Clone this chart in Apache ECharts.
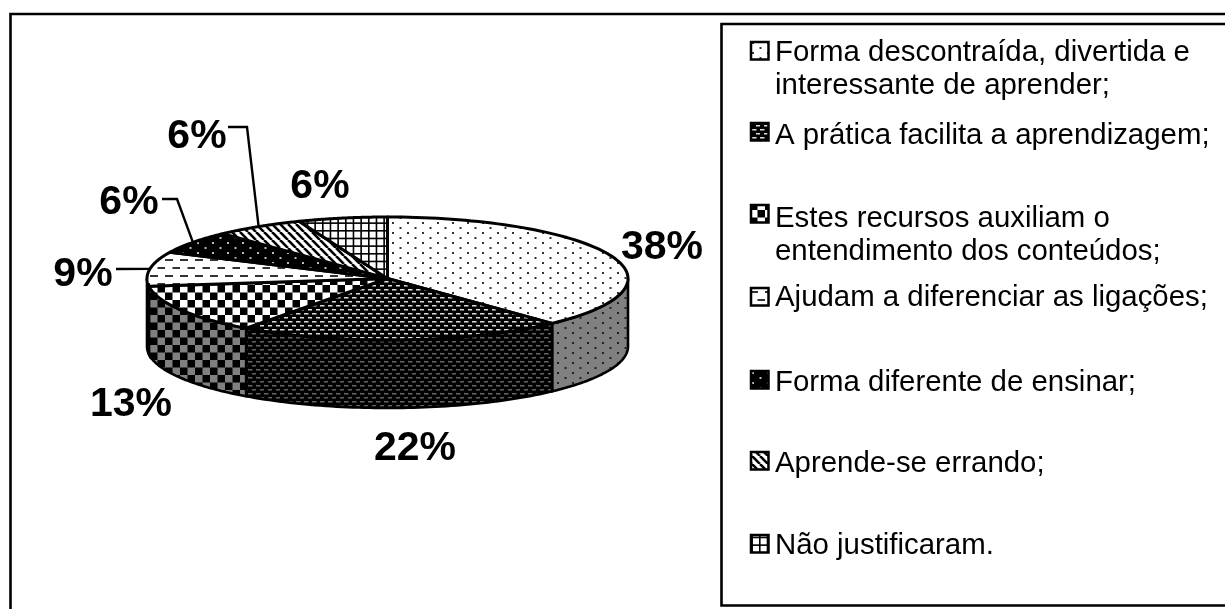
<!DOCTYPE html>
<html>
<head>
<meta charset="utf-8">
<title>Pizza</title>
<script src="https://cdn.jsdelivr.net/npm/echarts@6/dist/echarts.min.js"></script>
<style>
html, body { margin: 0; padding: 0; background: #fff; }
#main { width: 1225px; height: 609px; }
</style>
</head>
<body>
<div id="main"></div>
<script>
// dados
var percentuais = [38, 22, 13, 9, 6, 6, 6];
var legendas = [
	'Forma descontraída, divertida e\ninteressante de aprender;',
	'A prática facilita a aprendizagem;',
	'Estes recursos auxiliam o\nentendimento dos conteúdos;',
	'Ajudam a diferenciar as ligações;',
	'Forma diferente de ensinar;',
	'Aprende-se errando;',
	'Não justificaram.'
];

// layout do desenho
var FONTE = '"Liberation Sans", Arial, sans-serif';
var cx = 387.5, cy = 278.5, rx = 240.5, ry = 61.5, altura = 68;
var rotulos = [[662, 248], [415, 449], [131, 405], [83, 275], [129, 203], [197, 137], [320, 187]];
// inicio e cotovelo das linhas de chamada: so 9% e os dois primeiros 6%
var chamadas = { 3: [[116, 269]], 4: [[162, 199], [177, 199]], 5: [[228, 127], [247, 127]] };
var legendaTopo = [41, 122, 204, 287, 370, 451, 534];
var legendaTexto = [36, 119, 202, 281, 366, 447, 529];

function tile(w, h, fundo, desenha) {
	var c = document.createElement('canvas');
	c.width = w;
	c.height = h;
	var ctx = c.getContext('2d');
	ctx.fillStyle = fundo;
	ctx.fillRect(0, 0, w, h);
	desenha(ctx);
	return { image: c, repeat: 'repeat' };
}
function pontos(fundo, cor) {
	return tile(15, 10, fundo, function(ctx) {
		ctx.fillStyle = cor;
		ctx.fillRect(2, 2, 2, 2);
		ctx.fillRect(9.5, 7, 2, 2);
	});
}
function tracinhos(fundo, cor) {
	return tile(8, 8, fundo, function(ctx) {
		ctx.fillStyle = cor;
		ctx.fillRect(0, 1, 4.5, 1.5);
		ctx.fillRect(4, 5, 4.5, 1.5);
	});
}
function xadrez(fundo) {
	return tile(15, 15, fundo, function(ctx) {
		ctx.fillStyle = '#000';
		ctx.fillRect(0, 7.5, 7.5, 7.5);
		ctx.fillRect(7.5, 0, 7.5, 7.5);
	});
}
var padroes = [
	pontos('#fff', '#333'),
	tracinhos('#000', '#ddd'),
	xadrez('#fff'),
	tile(15, 16, '#fff', function(ctx) {
		ctx.fillStyle = '#333';
		ctx.fillRect(0, 3, 8, 2);
		ctx.fillRect(7.5, 11, 7.5, 2);
	}),
	pontos('#000', '#bbb'),
	tile(8, 8, '#fff', function(ctx) {
		ctx.strokeStyle = '#000';
		ctx.lineWidth = 2.6;
		for (var i = -8; i <= 8; i += 8) {
			ctx.beginPath();
			ctx.moveTo(i, 0);
			ctx.lineTo(i + 8, 8);
			ctx.stroke();
		}
	}),
	tile(23, 23, '#fff', function(ctx) {
		ctx.fillStyle = '#000';
		for (var i = 0; i < 3; i++) {
			ctx.fillRect(i * 23 / 3, 0, 1.6, 23);
			ctx.fillRect(0, i * 23 / 3, 23, 1.6);
		}
	})
];
// lateral: mesmas tramas escurecidas
var padroesLado = [pontos('#808080', '#222'), tracinhos('#000', '#666'), xadrez('#808080')];

function ponto(ang, dy) {
	return [cx + rx * Math.sin(ang), cy - ry * Math.cos(ang) + (dy || 0)];
}
function anguloDe(p) {
	return p / 100 * Math.PI * 2;
}

function renderItem(params, api) {
	var i = params.dataIndex;
	var acum = 0;
	for (var k = 0; k < i; k++) acum += percentuais[k];
	var valor = api.value(0);
	var a0 = anguloDe(acum), a1 = anguloDe(acum + valor);
	var filhos = [];

	// lateral visivel so na metade da frente
	var l0 = Math.max(a0, Math.PI / 2), l1 = Math.min(a1, Math.PI * 1.5);
	if (l1 > l0) {
		var lado = [], base = [];
		for (var s = 0; s <= 60; s++) {
			var t = l0 + (l1 - l0) * s / 60;
			lado.push(ponto(t));
			base.unshift(ponto(t, altura));
		}
		filhos.push({
			type: 'polygon',
			shape: { points: lado.concat(base) },
			style: { fill: padroesLado[i], stroke: '#000', lineWidth: 2.6 }
		});
	}

	var fatia = [[cx, cy]];
	for (var n = 0; n <= 80; n++) {
		fatia.push(ponto(a0 + (a1 - a0) * n / 80));
	}
	filhos.push({
		type: 'polygon',
		shape: { points: fatia },
		style: { fill: padroes[i], stroke: '#000', lineWidth: 3, lineJoin: 'round' }
	});

	if (chamadas[i]) {
		filhos.push({
			type: 'polyline',
			shape: { points: chamadas[i].concat([ponto((a0 + a1) / 2)]) },
			style: { fill: 'none', stroke: '#000', lineWidth: 2.4 }
		});
	}
	filhos.push({
		type: 'text',
		style: {
			x: rotulos[i][0],
			y: rotulos[i][1],
			text: valor + '%',
			align: 'center',
			verticalAlign: 'middle',
			font: 'bold 41px ' + FONTE,
			fill: '#000'
		}
	});
	return { type: 'group', children: filhos };
}

var graficos = [
	{ type: 'polyline', shape: { points: [[10.5, 609], [10.5, 14], [1225, 14]] }, style: { fill: 'none', stroke: '#000', lineWidth: 2.6 } },
	{ type: 'polyline', shape: { points: [[1225, 24], [721.5, 24], [721.5, 605.5], [1225, 605.5]] }, style: { fill: 'none', stroke: '#000', lineWidth: 2.6 } }
];
legendas.forEach(function(txt, i) {
	var y = legendaTopo[i];
	graficos.push({
		type: 'rect',
		shape: { x: 751, y: y + 1, width: 17.5, height: 17.5 },
		style: { fill: padroes[i], stroke: '#000', lineWidth: 2.5 }
	});
	graficos.push({
		type: 'text',
		style: {
			x: 775,
			y: legendaTexto[i],
			text: txt,
			font: '29.4px ' + FONTE,
			lineHeight: 33,
			fill: '#000'
		}
	});
});

var myChart = echarts.init(document.getElementById('main'));
myChart.setOption({
	animation: false,
	backgroundColor: '#fff',
	graphic: { elements: graficos },
	series: [{
		type: 'custom',
		coordinateSystem: 'none',
		silent: true,
		renderItem: renderItem,
		data: percentuais.map(function(v) { return [v]; })
	}]
});
</script>
</body>
</html>
